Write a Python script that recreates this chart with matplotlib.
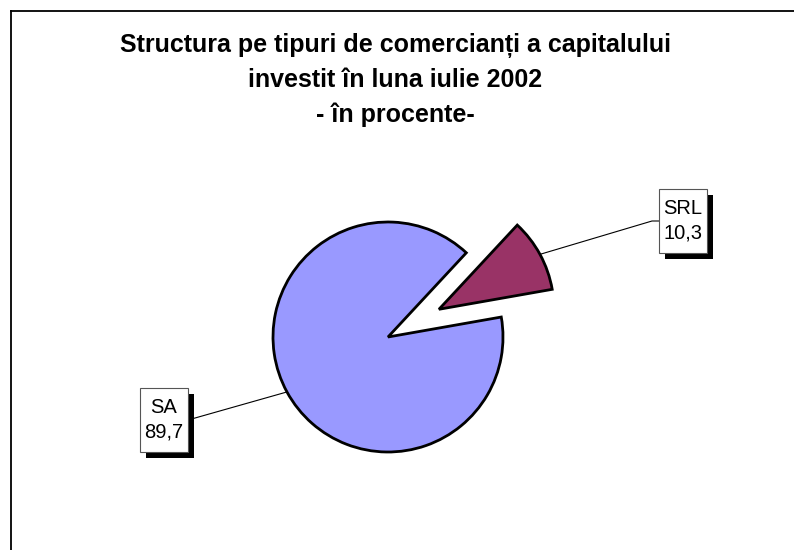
import matplotlib
matplotlib.use("Agg")
import matplotlib.pyplot as plt
from matplotlib.patches import Rectangle
from matplotlib.lines import Line2D
import numpy as np

categories = ["SRL", "SA"]
values = [10.3, 89.7]
value_labels = ["10,3", "89,7"]
colors = ["#993366", "#9999FF"]
title = "Structura pe tipuri de comercianți a capitalului\ninvestit în luna iulie 2002\n- în procente-"

W, H = 794, 550
fig = plt.figure(figsize=(W / 100, H / 100), dpi=100)
ax = fig.add_axes([0, 0, 1, 1])

cx, cy, R = 388, H - 337, 115
wedges, _ = ax.pie(values, colors=colors, startangle=10, counterclock=True,
                   explode=[58, 0], center=(cx, cy), radius=R,
                   wedgeprops=dict(edgecolor="black", linewidth=2.0))
ax.set_xlim(0, W)
ax.set_ylim(0, H)
ax.set_aspect("equal")
ax.axis("off")

# label boxes (center positions in pixels)
box_centers = [(683, H - 221), (164, H - 420)]
bw, bh = 48, 64
sh = 6
for w, cat, lab, (bx, by) in zip(wedges, categories, value_labels, box_centers):
    mid = np.deg2rad((w.theta1 + w.theta2) / 2)
    wx, wy = w.center
    px, py = wx + R * np.cos(mid), wy + R * np.sin(mid)
    if bx > px:
        ex = bx - bw / 2
        ax.add_line(Line2D([px, ex - 7, ex], [py, by, by], color="black", lw=0.8, zorder=1))
    else:
        ex = bx + bw / 2
        ax.add_line(Line2D([px, ex], [py, by], color="black", lw=0.8, zorder=1))
    ax.add_patch(Rectangle((bx - bw / 2 + sh, by - bh / 2 - sh), bw, bh,
                           facecolor="black", edgecolor="none", zorder=3))
    ax.add_patch(Rectangle((bx - bw / 2, by - bh / 2), bw, bh,
                           facecolor="white", edgecolor="#555555", lw=0.8, zorder=4))
    ax.text(bx, by, f"{cat}\n{lab}", ha="center", va="center", fontsize=14.5,
            family="Liberation Sans", linespacing=1.35, zorder=5)

fig.text(395 / W, 1 - 80 / H, title, ha="center", va="center", fontsize=18,
         fontweight="bold", family="Liberation Sans", linespacing=1.52)

# frame
fig.add_artist(Line2D([11 / W, 1], [1 - 11 / H, 1 - 11 / H], transform=fig.transFigure,
                      color="black", lw=1.3))
fig.add_artist(Line2D([11 / W, 11 / W], [0, 1 - 11 / H], transform=fig.transFigure,
                      color="black", lw=1.3))

fig.savefig("out.png", dpi=100)
